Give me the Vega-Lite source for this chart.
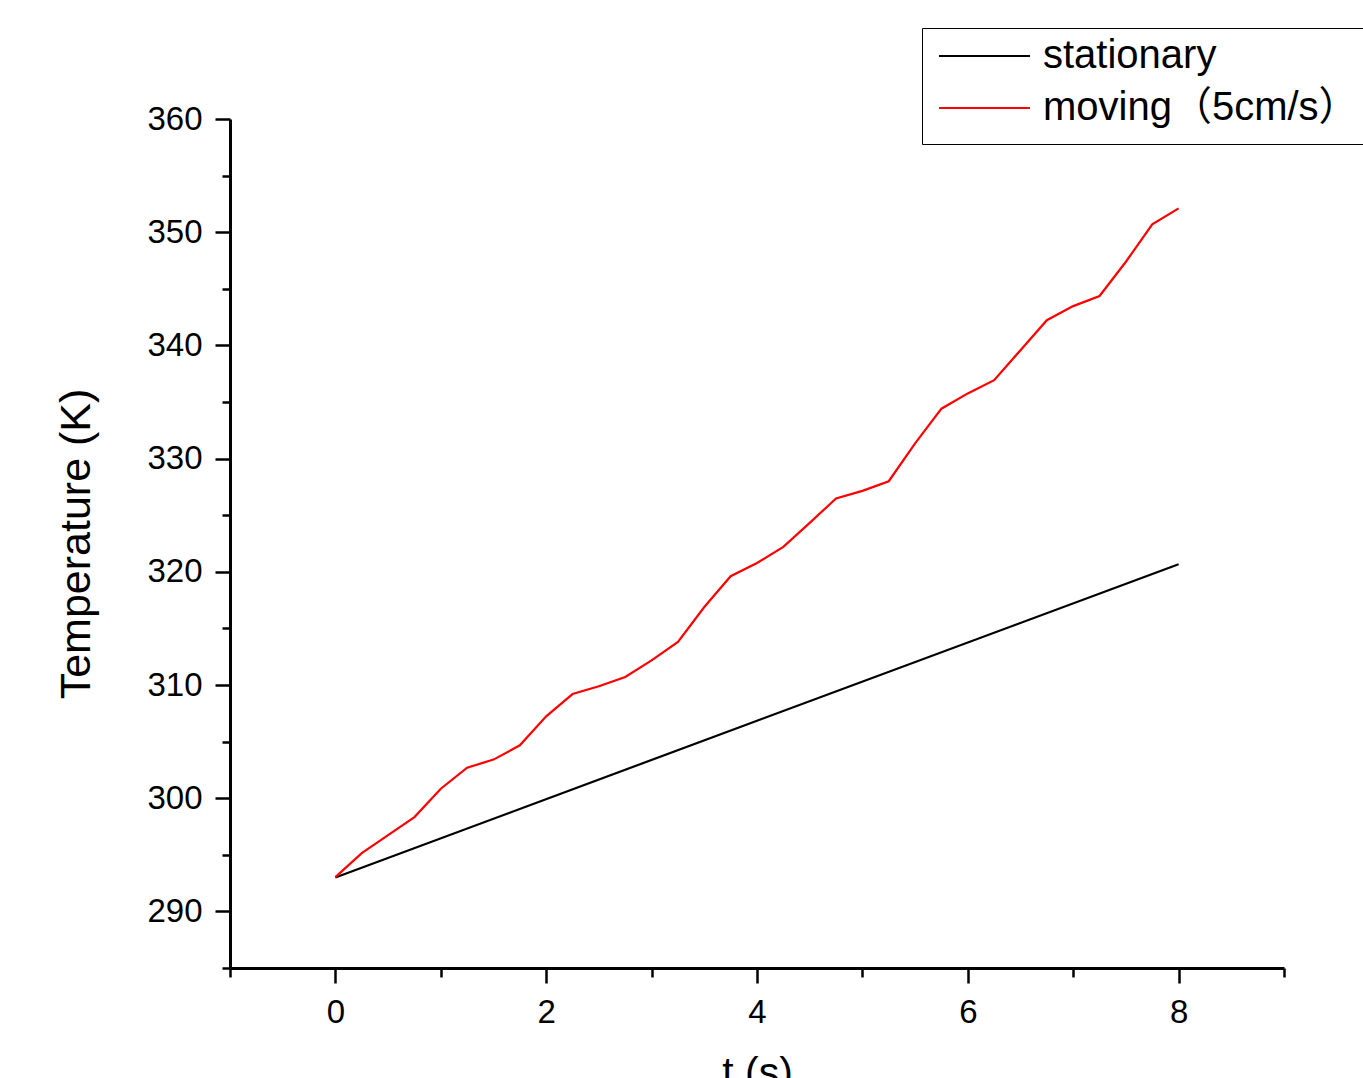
{
  "$schema": "https://vega.github.io/schema/vega-lite/v6.json",
  "width": 1054,
  "height": 849,
  "autosize": {"type": "none"},
  "padding": {"left": 230, "top": 119, "right": 79, "bottom": 110},
  "background": "white",
  "config": {"view": {"stroke": null}, "font": "Liberation Sans, Noto Sans CJK SC"},
  "data": {
    "values": [
      {"series": "stationary", "t": 0, "T": 293.0},
      {"series": "stationary", "t": 4, "T": 306.84},
      {"series": "stationary", "t": 8, "T": 320.67},
      {"series": "moving（5cm/s）", "t": 0, "T": 293.03},
      {"series": "moving（5cm/s）", "t": 0.25, "T": 295.15},
      {"series": "moving（5cm/s）", "t": 0.5, "T": 296.74},
      {"series": "moving（5cm/s）", "t": 0.75, "T": 298.33},
      {"series": "moving（5cm/s）", "t": 1, "T": 300.84},
      {"series": "moving（5cm/s）", "t": 1.25, "T": 302.7},
      {"series": "moving（5cm/s）", "t": 1.5, "T": 303.41},
      {"series": "moving（5cm/s）", "t": 1.75, "T": 304.67},
      {"series": "moving（5cm/s）", "t": 2, "T": 307.23},
      {"series": "moving（5cm/s）", "t": 2.25, "T": 309.2},
      {"series": "moving（5cm/s）", "t": 2.5, "T": 309.89},
      {"series": "moving（5cm/s）", "t": 2.75, "T": 310.71},
      {"series": "moving（5cm/s）", "t": 3, "T": 312.18},
      {"series": "moving（5cm/s）", "t": 3.25, "T": 313.8},
      {"series": "moving（5cm/s）", "t": 3.5, "T": 316.89},
      {"series": "moving（5cm/s）", "t": 3.75, "T": 319.61},
      {"series": "moving（5cm/s）", "t": 4, "T": 320.78},
      {"series": "moving（5cm/s）", "t": 4.25, "T": 322.2},
      {"series": "moving（5cm/s）", "t": 4.5, "T": 324.32},
      {"series": "moving（5cm/s）", "t": 4.75, "T": 326.48},
      {"series": "moving（5cm/s）", "t": 5, "T": 327.15},
      {"series": "moving（5cm/s）", "t": 5.25, "T": 328.0},
      {"series": "moving（5cm/s）", "t": 5.5, "T": 331.34},
      {"series": "moving（5cm/s）", "t": 5.75, "T": 334.41},
      {"series": "moving（5cm/s）", "t": 6, "T": 335.76},
      {"series": "moving（5cm/s）", "t": 6.25, "T": 336.93},
      {"series": "moving（5cm/s）", "t": 6.5, "T": 339.58},
      {"series": "moving（5cm/s）", "t": 6.75, "T": 342.23},
      {"series": "moving（5cm/s）", "t": 7, "T": 343.47},
      {"series": "moving（5cm/s）", "t": 7.25, "T": 344.36},
      {"series": "moving（5cm/s）", "t": 7.5, "T": 347.39},
      {"series": "moving（5cm/s）", "t": 7.75, "T": 350.69},
      {"series": "moving（5cm/s）", "t": 8, "T": 352.11}
    ]
  },
  "mark": {"type": "line", "strokeWidth": 2.2, "clip": false},
  "encoding": {
    "x": {
      "field": "t",
      "type": "quantitative",
      "scale": {"domain": [-1, 9], "nice": false, "zero": false},
      "axis": {
        "title": "t (s)",
        "values": [-1, 0, 1, 2, 3, 4, 5, 6, 7, 8, 9],
        "labelExpr": "(datum.value % 2 === 0) ? datum.label : ''",
        "tickSize": {"condition": {"test": "datum.value % 2 === 0", "value": 15}, "value": 9},
        "grid": false,
        "domainColor": "black",
        "domainWidth": 3,
        "tickColor": "black",
        "tickWidth": 2.5,
        "labelFontSize": 33,
        "labelColor": "black",
        "labelPadding": 13,
        "titleFontSize": 41,
        "titleFontWeight": "normal",
        "titleColor": "black",
        "titlePadding": 24
      }
    },
    "y": {
      "field": "T",
      "type": "quantitative",
      "scale": {"domain": [285, 360], "nice": false, "zero": false},
      "axis": {
        "title": "Temperature (K)",
        "values": [285, 290, 295, 300, 305, 310, 315, 320, 325, 330, 335, 340, 345, 350, 355, 360],
        "labelExpr": "(datum.value % 10 === 0) ? datum.label : ''",
        "tickSize": {"condition": {"test": "datum.value % 10 === 0", "value": 15}, "value": 8},
        "grid": false,
        "domainColor": "black",
        "domainWidth": 3,
        "tickColor": "black",
        "tickWidth": 2.5,
        "labelFontSize": 33,
        "labelColor": "black",
        "labelPadding": 13,
        "titleFontSize": 43,
        "titleFontWeight": "normal",
        "titleColor": "black",
        "titlePadding": 48
      }
    },
    "color": {
      "field": "series",
      "type": "nominal",
      "sort": ["stationary", "moving（5cm/s）"],
      "scale": {"domain": ["stationary", "moving（5cm/s）"], "range": ["#000000", "#ff0000"]},
      "legend": {
        "orient": "none",
        "legendX": 692,
        "legendY": -91,
        "title": null,
        "strokeColor": "black",
        "fillColor": "white",
        "padding": 16,
        "symbolType": "stroke",
        "symbolSize": 8281,
        "symbolStrokeWidth": 2,
        "labelFontSize": 40,
        "labelColor": "black",
        "labelOffset": 12,
        "labelLimit": 800,
        "clipHeight": 24,
        "rowPadding": 12
      }
    }
  }
}
